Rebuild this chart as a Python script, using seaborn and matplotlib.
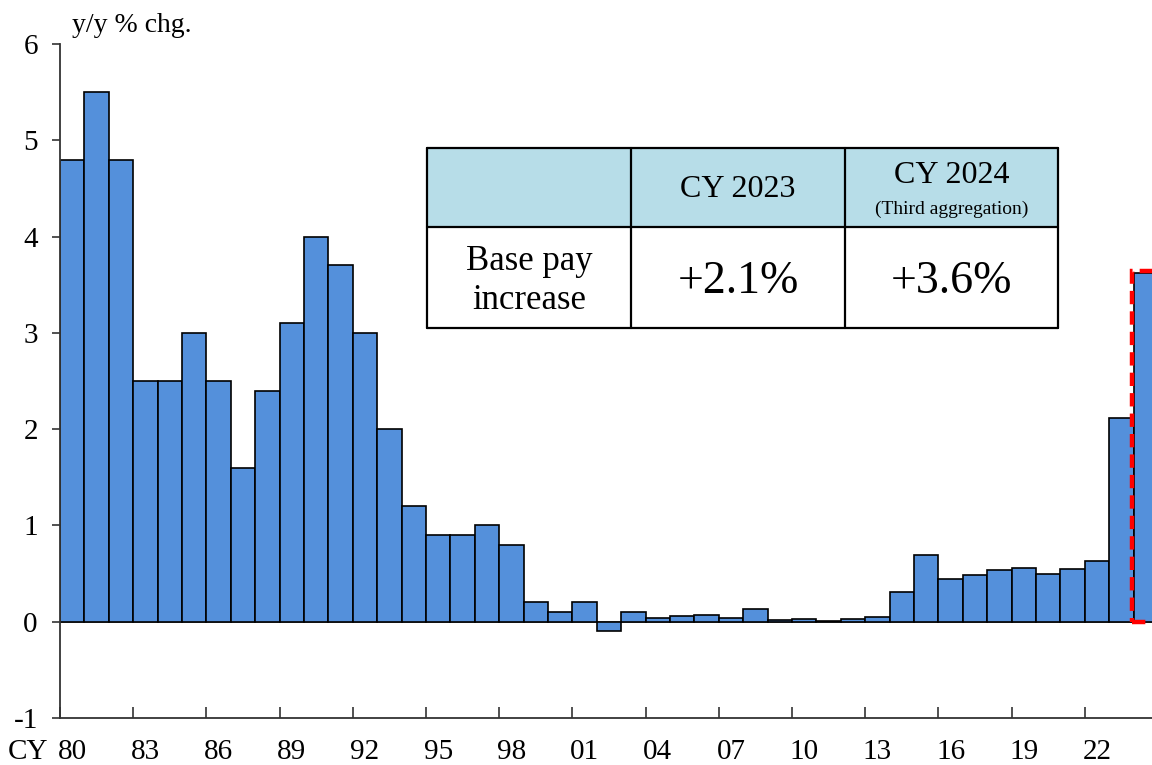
import matplotlib
matplotlib.use("Agg")
import matplotlib.pyplot as plt
import seaborn as sns
import numpy as np
import pandas as pd
from matplotlib.patches import Rectangle

# ---------------- data ----------------
years = list(range(1980, 2025))
base_pay = [4.8, 5.5, 4.8, 2.5, 2.5, 3.0, 2.5, 1.6, 2.4, 3.1,
            4.0, 3.7, 3.0, 2.0, 1.2, 0.9, 0.9, 1.0, 0.8, 0.2,
            0.1, 0.2, -0.1, 0.1, 0.035, 0.06, 0.07, 0.04, 0.13, 0.02,
            0.03, 0.01, 0.03, 0.05, 0.31, 0.69, 0.44, 0.48, 0.54, 0.56,
            0.50, 0.55, 0.63, 2.12, 3.62]
tick_years = list(range(1980, 2023, 3))
tick_labels = [f"{y % 100:02d}" for y in tick_years]
y_ticks = [-1, 0, 1, 2, 3, 4, 5, 6]
highlight_year = 2024

table_header = ["", "CY 2023", "CY 2024"]
table_sub = "(Third aggregation)"
table_row_label = "Base pay\nincrease"
table_values = ["+2.1%", "+3.6%"]

df = pd.DataFrame({"year": [str(y) for y in years], "value": base_pay})

# ---------------- style ----------------
sns.set_theme(style="ticks")
plt.rcParams["font.family"] = ["Liberation Serif", "DejaVu Serif"]
plt.rcParams["axes.linewidth"] = 1.3
plt.rcParams["text.color"] = "black"
plt.rcParams["xtick.labelcolor"] = "black"
plt.rcParams["ytick.labelcolor"] = "black"

fig = plt.figure(figsize=(11.52, 7.65), dpi=100)
W, H = 1152, 765
ax = fig.add_axes([60 / W, (H - 718) / H, (W - 60) / W, (718 - 44) / H])

bar_color = "#5490DB"
sns.barplot(data=df, x="year", y="value", color=bar_color, width=1.0,
            edgecolor="black", linewidth=1.2, saturation=1, ax=ax,
            errorbar=None)

ax.set_ylim(-1, 6)
ax.set_xlim(-0.5, 44.25)
ax.axhline(0, color="#555555", lw=1.2, zorder=0.5)

sns.despine(ax=ax, top=True, right=True)
ax.spines["left"].set_color("#333333")
ax.spines["bottom"].set_color("#333333")

# y axis
ax.set_yticks(y_ticks)
ax.set_yticklabels([str(v) for v in y_ticks])
ax.tick_params(axis="y", direction="out", length=6, width=1.2, pad=10,
               labelsize=21, colors="#333333", labelcolor="black")

# x axis: tick marks at bar left edges, labels centered on bars
idx = [years.index(y) for y in tick_years]
ax.set_xticks([i - 0.5 for i in idx])
ax.set_xticklabels([""] * len(idx))
ax.tick_params(axis="x", which="major", direction="in", length=8, width=1.2,
               colors="#333333")
ax.set_xticks(idx, minor=True)
ax.set_xticklabels(tick_labels, minor=True)
ax.tick_params(axis="x", which="minor", length=0, pad=15, labelsize=21,
               labelcolor="black")
ax.set_xlabel("")
ax.set_ylabel("")

# highlight rectangle on 2024 bar
hi = years.index(highlight_year)
ax.add_patch(Rectangle((hi - 0.58, 0), 1.1, base_pay[hi] + 0.02, fill=False,
                       edgecolor="red", linestyle=(0, (3, 1.6)), lw=3.2,
                       zorder=5, clip_on=False))

# texts
fig.text(72 / W, 1 - 26 / H, "y/y % chg.", fontsize=20, va="center", ha="left")
fig.text(28 / W, 1 - 752 / H, "CY", fontsize=21, va="center", ha="center")

# table overlay
tab = fig.add_axes([0, 0, 1, 1], facecolor="none")
tab.set_xlim(0, W)
tab.set_ylim(H, 0)
tab.axis("off")
x0, x1, x2, x3 = 427, 631, 845, 1058
y0, y1, y2 = 148, 227, 328
tab.add_patch(Rectangle((x0, y0), x3 - x0, y1 - y0, facecolor="#B7DDE8",
                        edgecolor="none"))
tab.add_patch(Rectangle((x0, y1), x3 - x0, y2 - y1, facecolor="white",
                        edgecolor="none"))
lw = 1.6
for yy in (y0, y1, y2):
    tab.plot([x0, x3], [yy, yy], color="black", lw=lw)
for xx in (x0, x1, x2, x3):
    tab.plot([xx, xx], [y0, y2], color="black", lw=lw)

tab.text((x1 + x2) / 2, 189, table_header[1], fontsize=23, ha="center", va="center")
tab.text((x2 + x3) / 2, 175, table_header[2], fontsize=23, ha="center", va="center")
tab.text((x2 + x3) / 2, 209, table_sub, fontsize=14, ha="center", va="center")
tab.text((x0 + x1) / 2, 281, table_row_label, fontsize=25, ha="center",
         va="center", linespacing=1.22)
tab.text((x1 + x2) / 2, 282, table_values[0], fontsize=33, ha="center", va="center")
tab.text((x2 + x3) / 2, 282, table_values[1], fontsize=33, ha="center", va="center")

fig.savefig("out.png", dpi=100)
